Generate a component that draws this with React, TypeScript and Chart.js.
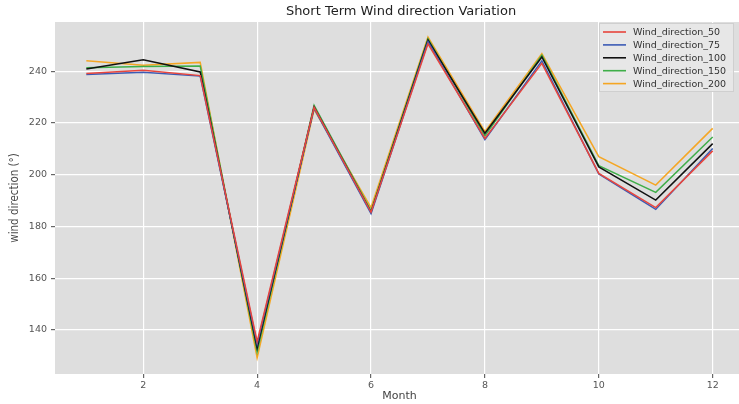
import React, { useEffect, useRef } from "react";
import { Chart, registerables } from "chart.js";

Chart.register(...registerables);

// Monthly wind direction (degrees) at five measurement heights
const months = [1, 2, 3, 4, 5, 6, 7, 8, 9, 10, 11, 12];
const wind50 = [239.1, 240.4, 238.3, 135.5, 226.0, 185.5, 250.6, 214.0, 243.0, 200.5, 187.3, 209.2];
const wind75 = [238.7, 239.6, 238.1, 134.5, 225.6, 185.0, 251.4, 213.6, 244.0, 200.3, 186.6, 210.1];
const wind100 = [240.8, 244.4, 239.7, 133.0, 226.1, 185.5, 252.0, 216.0, 245.5, 203.0, 190.2, 212.0];
const wind150 = [241.3, 241.8, 242.0, 131.5, 226.8, 186.0, 252.5, 215.0, 246.2, 203.5, 193.2, 214.6];
const wind200 = [244.0, 242.3, 243.4, 129.2, 225.2, 187.3, 253.2, 216.6, 246.8, 207.0, 196.0, 217.9];

const seriesNames = ["Wind_direction_50", "Wind_direction_75", "Wind_direction_100", "Wind_direction_150", "Wind_direction_200"];
const seriesValues = [wind50, wind75, wind100, wind150, wind200];
const seriesColors = ["#e8453c", "#3b5bb5", "#111111", "#3fae49", "#f5a623"];

const xTicks = [2, 4, 6, 8, 10, 12];
const yTicks = [140, 160, 180, 200, 220, 240];

const FONT = "'DejaVu Sans', sans-serif";

const backdropPlugin = {
  id: "backdrop",
  beforeDraw(chart: any) {
    const { ctx, chartArea } = chart;
    ctx.save();
    ctx.fillStyle = "#dedede";
    ctx.fillRect(chartArea.left, chartArea.top, chartArea.right - chartArea.left, chartArea.bottom - chartArea.top);
    ctx.restore();
  },
};

const overlayPlugin = {
  id: "overlay",
  afterDraw(chart: any) {
    const { ctx } = chart;
    ctx.save();
    // title
    ctx.fillStyle = "#222222";
    ctx.font = `13px ${FONT}`;
    ctx.textAlign = "center";
    ctx.textBaseline = "middle";
    ctx.fillText("Short Term Wind direction Variation", 401, 12);

    // legend box
    const bx = 599, by = 23, bw = 135, bh = 69;
    ctx.fillStyle = "rgba(232,232,232,0.9)";
    ctx.strokeStyle = "#cfcfcf";
    ctx.lineWidth = 1;
    ctx.fillRect(bx, by, bw, bh);
    ctx.strokeRect(bx + 0.5, by + 0.5, bw - 1, bh - 1);
    ctx.font = `9.5px ${FONT}`;
    ctx.textAlign = "left";
    seriesNames.forEach((name, i) => {
      const y = 32 + i * 12.9;
      ctx.strokeStyle = seriesColors[i];
      ctx.lineWidth = 1.6;
      ctx.beginPath();
      ctx.moveTo(603, y);
      ctx.lineTo(626, y);
      ctx.stroke();
      ctx.fillStyle = "#333333";
      ctx.fillText(name, 633, y + 0.5);
    });
    ctx.restore();
  },
};

export default function App() {
  const canvasRef = useRef<HTMLCanvasElement | null>(null);

  useEffect(() => {
    if (!canvasRef.current) return;
    const chart = new Chart(canvasRef.current, {
      type: "line",
      data: {
        datasets: seriesNames.map((name, i) => ({
          label: name,
          data: months.map((m, j) => ({ x: m, y: seriesValues[i][j] })),
          borderColor: seriesColors[i],
          backgroundColor: seriesColors[i],
          borderWidth: 1.5,
          pointRadius: 0,
          tension: 0,
        })),
      },
      options: {
        animation: false,
        responsive: false,
        maintainAspectRatio: false,
        layout: { padding: { left: 0, top: 22, right: 16, bottom: 0 } },
        plugins: {
          legend: { display: false },
          title: { display: false },
          tooltip: { enabled: false },
        },
        scales: {
          x: {
            type: "linear",
            min: 0.45,
            max: 12.55,
            afterBuildTicks: (s: any) => {
              s.ticks = xTicks.map((v) => ({ value: v }));
            },
            afterFit: (s: any) => {
              s.height = 30;
            },
            grid: { color: "#ffffff", lineWidth: 1.2, tickColor: "#666666", tickLength: 4, drawTicks: true },
            border: { display: false },
            ticks: { color: "#555555", font: { family: FONT, size: 9.5 }, padding: 2, maxRotation: 0 },
            title: { display: true, text: "Month", color: "#444444", font: { family: FONT, size: 11 }, padding: { top: 0, bottom: 1 } },
          },
          y: {
            type: "linear",
            min: 123,
            max: 259,
            afterBuildTicks: (s: any) => {
              s.ticks = yTicks.map((v) => ({ value: v }));
            },
            afterFit: (s: any) => {
              s.width = 55;
            },
            grid: { color: "#ffffff", lineWidth: 1.2, tickColor: "#666666", tickLength: 4, drawTicks: true },
            border: { display: false },
            ticks: { color: "#555555", font: { family: FONT, size: 9.5 }, padding: 4 },
            title: {
              display: true,
              text: "wind direction (°)",
              color: "#4a4a4a",
              font: { family: "'DejaVu Sans Condensed', 'Liberation Sans Narrow', sans-serif", size: 11.5 },
              padding: { top: 8, bottom: 0 },
            },
          },
        },
      },
      plugins: [backdropPlugin, overlayPlugin],
    } as any);
    return () => chart.destroy();
  }, []);

  return (
    <div style={{ position: "fixed", left: 0, top: 0, width: 760, height: 404, background: "#ffffff" }}>
      <canvas ref={canvasRef} width={760} height={404} style={{ display: "block" }} />
    </div>
  );
}
